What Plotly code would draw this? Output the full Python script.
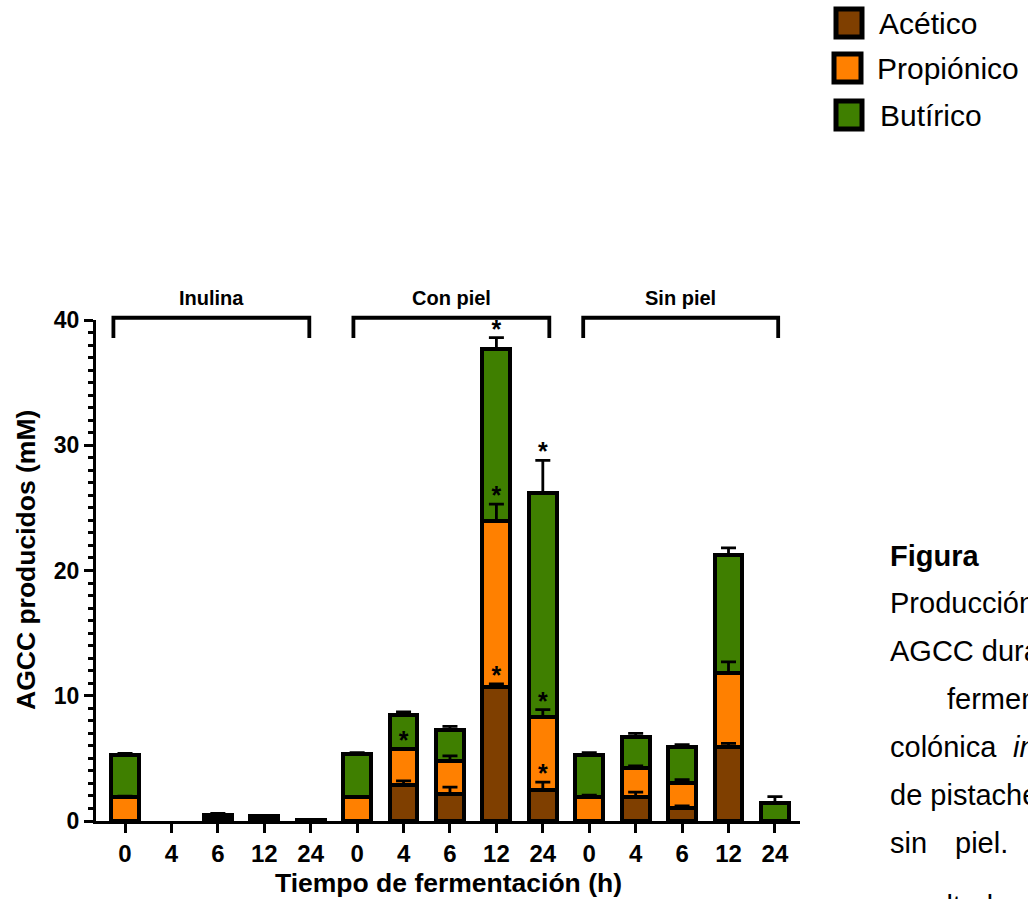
import numpy as np
import plotly.graph_objects as go

# ---------------- data ----------------
groups = ["Inulina", "Con piel", "Sin piel"]
times = ["0", "4", "6", "12", "24"]
tick_labels = times * 3

acetico = [0, 0, 0.2, 0.15, 0.02, 0, 2.85, 2.15, 10.7, 2.5, 0, 1.95, 1.07, 5.9, 0]
propionico = [1.9, 0, 0.1, 0.1, 0.01, 1.9, 2.92, 2.65, 13.25, 5.83, 1.9, 2.25, 1.98, 5.9, 0]
butirico = [3.4, 0, 0.2, 0.15, 0.02, 3.45, 2.69, 2.5, 13.75, 17.87, 3.4, 2.5, 2.85, 9.4, 1.4]

acetico_err = [0, 0, 0, 0, 0, 0, 0.35, 0.55, 0.25, 0.6, 0, 0.35, 0.13, 0.3, 0]
propionico_err = [0.08, 0, 0, 0, 0, 0.07, 0, 0.4, 1.35, 0.57, 0.17, 0.2, 0.25, 0.9, 0]
butirico_err = [0.1, 0, 0.1, 0, 0, 0.1, 0.25, 0.25, 0.9, 2.6, 0.15, 0.3, 0.2, 0.6, 0.55]

acetico_sig = [0, 0, 0, 0, 0, 0, 0, 0, 1, 1, 0, 0, 0, 0, 0]
propionico_sig = [0, 0, 0, 0, 0, 0, 1, 0, 1, 1, 0, 0, 0, 0, 0]
butirico_sig = [0, 0, 0, 0, 0, 0, 0, 0, 1, 1, 0, 0, 0, 0, 0]

series_names = ["Acético", "Propiónico", "Butírico"]
colors = ["#7f3f00", "#ff8000", "#3f7f00"]

FONT = "Liberation Sans"
W, H = 1028, 899
ML, MR, MT, MB = 96, 228, 320, 78
XMIN, XMAX = -0.625, 14.54
YMAX = 40

x = np.arange(len(tick_labels))
vals = [np.array(acetico, float), np.array(propionico, float), np.array(butirico, float)]
errs = [np.array(acetico_err, float), np.array(propionico_err, float), np.array(butirico_err, float)]
sigs = [acetico_sig, propionico_sig, butirico_sig]

fig = go.Figure()

# stacked bars
for name, v, c in zip(series_names, vals, colors):
    yv = [val if val > 0 else None for val in v]
    fig.add_trace(go.Bar(
        x=x, y=yv, name=name, width=0.6,
        marker=dict(color=c, line=dict(color="black", width=4.5)),
        showlegend=False,
    ))

# error bars (upper only) above all bars + significance stars
base = np.zeros(len(x))
for v, e, s in zip(vals, errs, sigs):
    top = base + v
    ey = [t if val > 0 else None for t, val in zip(top, v)]
    fig.add_trace(go.Scatter(
        x=x, y=ey, mode="markers", marker=dict(size=0.1, color="black"),
        error_y=dict(type="data", symmetric=False, array=e, arrayminus=np.zeros(len(x)),
                     color="black", thickness=2.8, width=7.5),
        showlegend=False, hoverinfo="skip", cliponaxis=False,
    ))
    sx = [xi for xi, si in zip(x, s) if si]
    sy = [t + ei + 0.5 for t, ei, si in zip(top, e, s) if si]
    fig.add_trace(go.Scatter(
        x=sx, y=sy, mode="text", text=["*"] * len(sx), textposition="middle center",
        textfont=dict(family=FONT, size=25, color="black", weight=700),
        showlegend=False, hoverinfo="skip", cliponaxis=False,
    ))
    base = top

def px_x(px):
    return (px - ML) / (W - ML - MR)

def px_y(py):
    return (H - MB - py) / (H - MT - MB)

def cat_paper(c):
    return (c - XMIN) / (XMAX - XMIN)

shapes = []
annotations = []

# group brackets
bracket_spans = [(-0.25, 3.97), (4.92, 9.14), (9.87, 14.07)]
b_top, b_bot = 40.18 / YMAX, 38.56 / YMAX
for (a, b), g in zip(bracket_spans, groups):
    xa, xb = cat_paper(a), cat_paper(b)
    shapes.append(dict(type="path", xref="paper", yref="paper",
                       path=f"M {xa},{b_bot} L {xa},{b_top} L {xb},{b_top} L {xb},{b_bot}",
                       line=dict(color="black", width=3.8)))
    annotations.append(dict(x=cat_paper((a + b) / 2), y=41.75 / YMAX, xref="paper", yref="paper", text=g,
                            xanchor="center", yanchor="middle",
                            showarrow=False, font=dict(family=FONT, size=20, color="black", weight=700)))

# manual legend
legend_boxes = [(836, 9, 862, 37, 877, 23), (834, 54, 861, 82, 875, 68), (836, 101, 862, 129, 878, 115)]
for (x0, y0, x1, y1, tx, ty), name, c in zip(legend_boxes, series_names, colors):
    shapes.append(dict(type="rect", xref="paper", yref="paper",
                       x0=px_x(x0), x1=px_x(x1), y0=px_y(y1), y1=px_y(y0),
                       fillcolor=c, line=dict(color="black", width=5)))
    annotations.append(dict(x=px_x(tx), y=px_y(ty), xref="paper", yref="paper", text=name,
                            xanchor="left", yanchor="middle", showarrow=False,
                            font=dict(family=FONT, size=30, color="black")))

# side caption text (cropped page)
caption = [
    ("<b>Figura</b>", 888, 556),
    ("Producción de", 888, 603),
    ("AGCC durante la", 888, 651),
    ("fermentación", 945, 699),
    ("colónica", 888, 747),
    ("<i>in vitro</i>", 1011, 747),
    ("de pistache con", 888, 795),
    ("sin", 888, 843),
    ("piel.", 953, 843),
    ("resultados", 888, 906),
]
for t, tx, ty in caption:
    annotations.append(dict(x=px_x(tx), y=px_y(ty), xref="paper", yref="paper", text=t,
                            xanchor="left", yanchor="middle", showarrow=False,
                            font=dict(family=FONT, size=29, color="black")))

# axis titles
annotations.append(dict(x=px_x(26), y=px_y(560), xref="paper", yref="paper",
                        text="AGCC producidos (mM)", textangle=-90, showarrow=False,
                        xanchor="center", yanchor="middle",
                        font=dict(family=FONT, size=26.5, color="black", weight=700)))
annotations.append(dict(x=0.5, y=px_y(883), xref="paper", yref="paper",
                        text="Tiempo de fermentación (h)", showarrow=False,
                        xanchor="center", yanchor="middle",
                        font=dict(family=FONT, size=26.5, color="black", weight=700)))

fig.update_layout(
    width=W, height=H,
    margin=dict(l=ML, r=MR, t=MT, b=MB, pad=0),
    paper_bgcolor="white", plot_bgcolor="white",
    barmode="stack", bargap=0,
    shapes=shapes, annotations=annotations,
    font=dict(family=FONT, color="black"),
)
fig.update_xaxes(
    range=[XMIN, XMAX], tickvals=x, ticktext=tick_labels,
    showline=True, linecolor="black", linewidth=3, mirror=False,
    ticks="outside", ticklen=9, tickwidth=3, tickcolor="black",
    showgrid=False, zeroline=False,
    tickfont=dict(family=FONT, size=24, color="black", weight=700),
)
fig.update_yaxes(
    range=[0, YMAX], tickvals=[0, 10, 20, 30, 40],
    showline=True, linecolor="black", linewidth=3,
    ticks="outside", ticklen=9, tickwidth=3, tickcolor="black",
    minor=dict(dtick=1, ticks="outside", ticklen=5, tickwidth=2.5, tickcolor="black"),
    showgrid=False, zeroline=False,
    tickfont=dict(family=FONT, size=23, color="black", weight=700),
)

fig.write_html("out.html")
